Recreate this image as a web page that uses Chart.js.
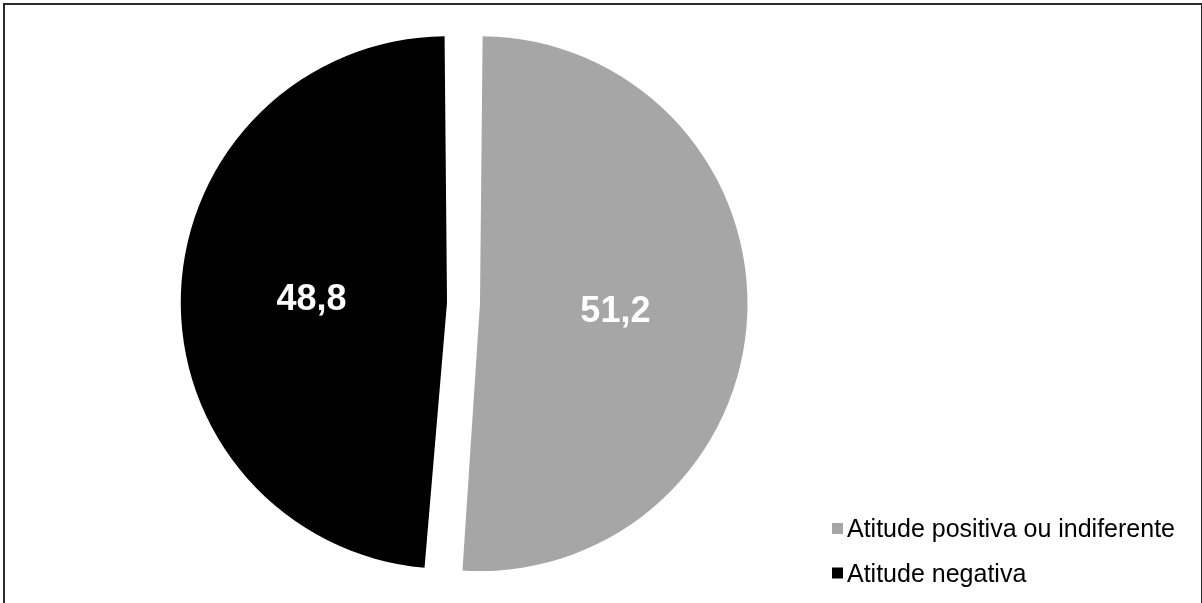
<!DOCTYPE html>
<html>
<head>
<meta charset="utf-8">
<script src="https://cdn.jsdelivr.net/npm/chart.js@4/dist/chart.umd.min.js"></script>
<style>
  html, body { margin: 0; padding: 0; background: #fff; width: 1202px; height: 603px; overflow: hidden; }
  #frame { position: absolute; left: 3px; top: 3px; width: 1200px; height: 700px; border: 2px solid #2a2a2a; box-sizing: border-box; }
  #wrap { position: absolute; left: 0; top: 0; width: 1202px; height: 603px; }
</style>
</head>
<body>
<div id="frame"></div>
<div id="wrap"><canvas id="c" width="1202" height="603"></canvas></div>
<script>
const categories = ['Atitude positiva ou indiferente', 'Atitude negativa'];
const values = [51.2, 48.8];
const colors = ['#a6a6a6', '#000000'];
const SLICE_OFFSET = 66;

const sliceLabels = {
  id: 'sliceLabels',
  afterDatasetsDraw(chart) {
    const ctx = chart.ctx;
    const meta = chart.getDatasetMeta(0);
    const ds = chart.data.datasets[0];
    ctx.save();
    ctx.font = 'bold 36px "Liberation Sans", Arial, sans-serif';
    ctx.fillStyle = '#ffffff';
    ctx.textAlign = 'center';
    ctx.textBaseline = 'middle';
    meta.data.forEach((arc, i) => {
      const p = arc.getProps(['x', 'y', 'startAngle', 'endAngle', 'outerRadius'], true);
      const mid = (p.startAngle + p.endAngle) / 2;
      const t = SLICE_OFFSET / 4;
      const d = t + p.outerRadius / 2 + 10;
      const x = p.x + Math.cos(mid) * d;
      const y = p.y + Math.sin(mid) * d;
      ctx.fillText(String(ds.data[i]).replace('.', ','), x, y + 3);
    });
    ctx.restore();
  }
};

const customLegend = {
  id: 'customLegend',
  afterDraw(chart) {
    const ctx = chart.ctx;
    const ds = chart.data.datasets[0];
    ctx.save();
    ctx.font = '25px "Liberation Sans", Arial, sans-serif';
    ctx.textAlign = 'left';
    ctx.textBaseline = 'middle';
    const x0 = 832, y0 = 523, rowGap = 44.5, box = 11;
    chart.data.labels.forEach((lab, i) => {
      const y = y0 + i * rowGap;
      ctx.fillStyle = ds.backgroundColor[i];
      ctx.fillRect(x0, y, box, box);
      ctx.fillStyle = '#000000';
      ctx.fillText(lab, x0 + box + 4, y + box / 2 + 2);
    });
    ctx.restore();
  }
};

new Chart(document.getElementById('c'), {
  type: 'pie',
  data: {
    labels: categories,
    datasets: [{
      data: values,
      backgroundColor: colors,
      borderWidth: 0,
      offset: SLICE_OFFSET,
      hoverOffset: 0
    }]
  },
  options: {
    responsive: false,
    animation: false,
    events: [],
    layout: { padding: { left: 100, right: 375, top: 19, bottom: 16 } },
    plugins: {
      legend: { display: false },
      tooltip: { enabled: false }
    }
  },
  plugins: [sliceLabels, customLegend]
});
</script>
</body>
</html>
